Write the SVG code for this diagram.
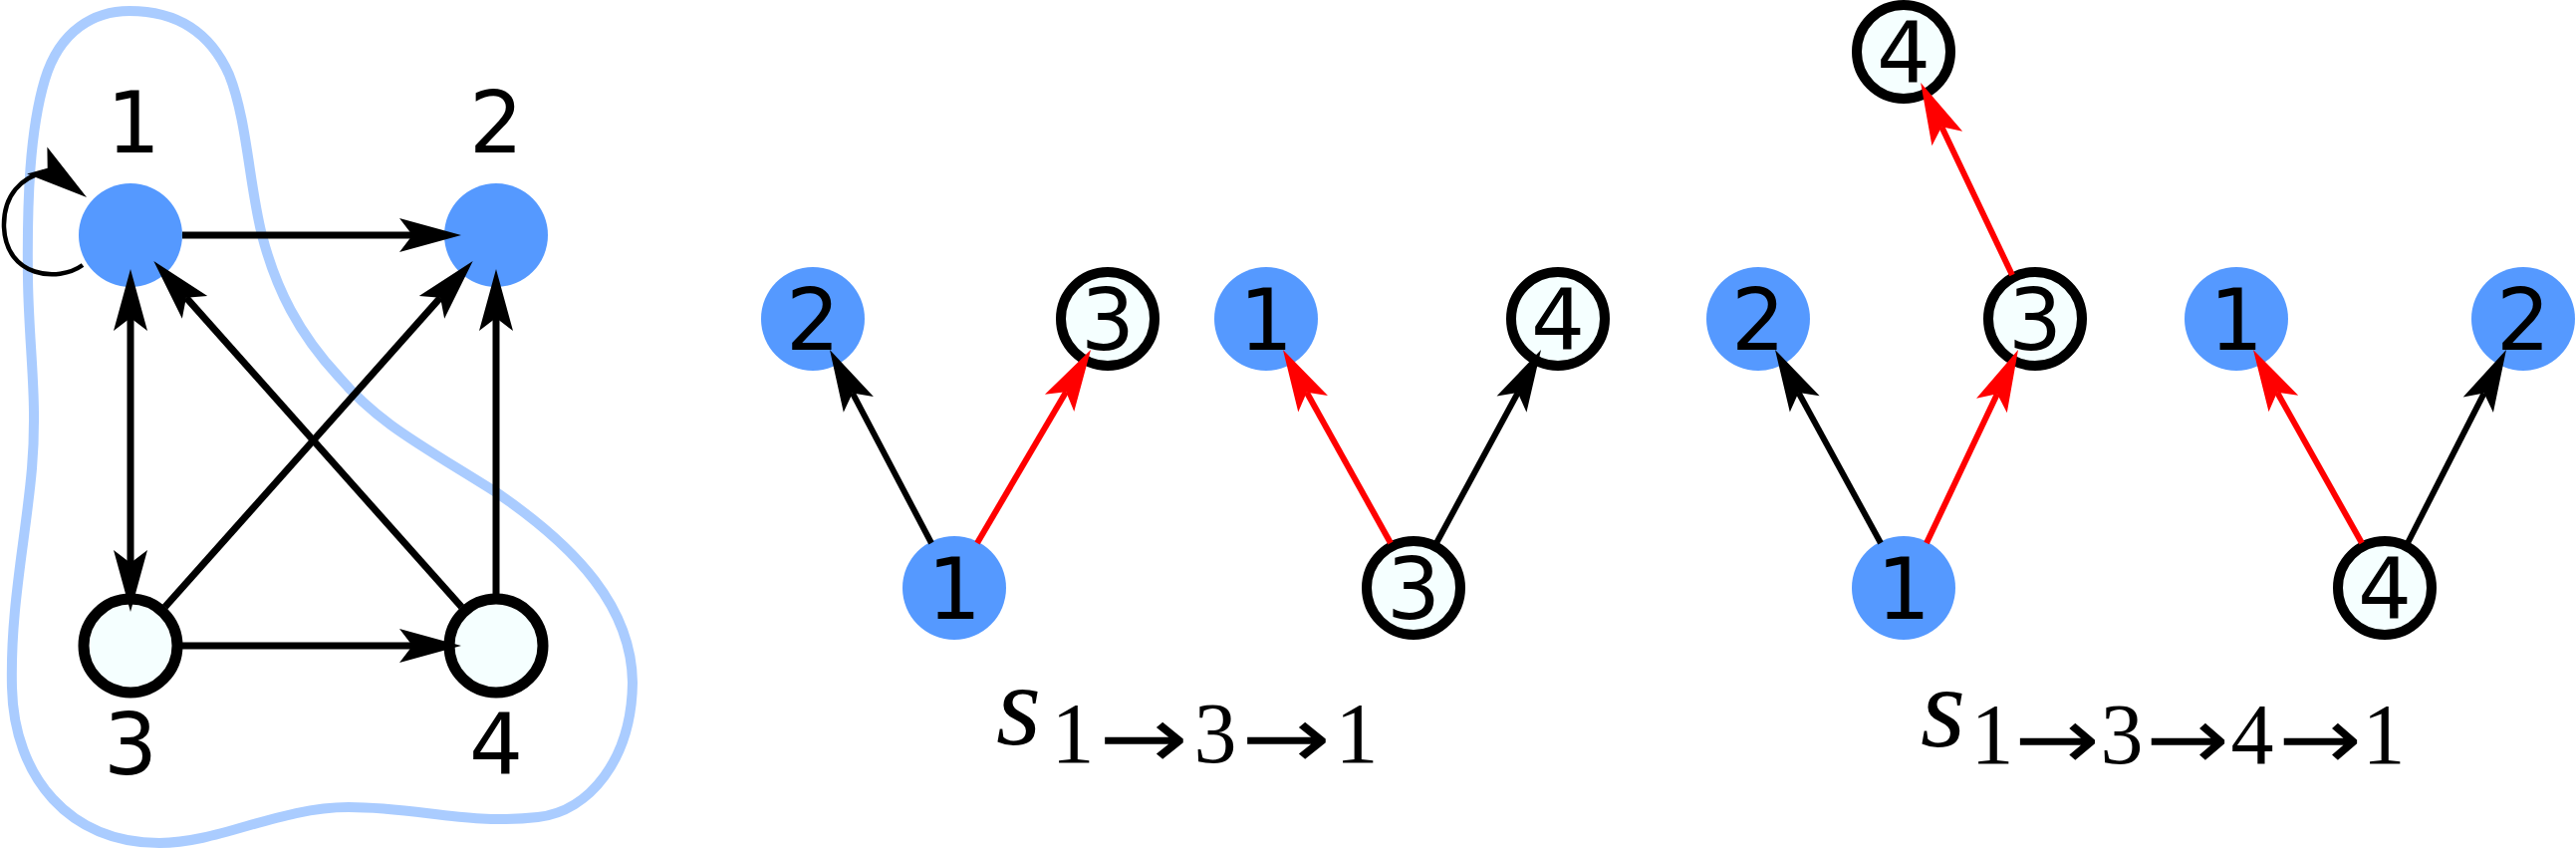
<svg xmlns="http://www.w3.org/2000/svg" width="2586" height="853" viewBox="0 0 2586 853">
<style>
.blue{fill:#5599ff}
.open{fill:#f5ffff;stroke:#000;stroke-width:10}
.open0{fill:#f5ffff;stroke:#000;stroke-width:11}
.lbl{font-family:"DejaVu Sans",sans-serif;font-size:85px;fill:#000;text-anchor:middle}
.e{fill:none;stroke:#000;stroke-width:7;marker-end:url(#ahk)}
.t{fill:none;stroke:#000;stroke-width:6;marker-end:url(#ahk)}
.r{fill:none;stroke:#ff0000;stroke-width:6;marker-end:url(#ahr)}
.math{font-family:"Liberation Serif","DejaVu Serif",serif;fill:#000}
.dig{font-family:"Liberation Serif","DejaVu Serif",serif;font-size:86px;fill:#000;text-anchor:middle}
.arr{font-family:"DejaVu Sans",sans-serif;font-size:86px;fill:#000}
</style>
<defs>
<marker id="ahk" markerUnits="userSpaceOnUse" viewBox="-14 -18 64 36" refX="0" refY="0" markerWidth="64" markerHeight="36" orient="auto-start-reverse" overflow="visible"><path d="M49,0 L-13,-17 L0,0 L-13,17 Z" fill="#000"/></marker>
<marker id="ahr" markerUnits="userSpaceOnUse" viewBox="-14 -18 64 36" refX="0" refY="0" markerWidth="64" markerHeight="36" orient="auto" overflow="visible"><path d="M49,0 L-13,-17 L0,0 L-13,17 Z" fill="#ff0000"/></marker>
</defs>

<g id="cluster">
<path d="M130,11 C95,11 60,30 45,80 C30,130 27,200 28,280 C29,350 38,400 32,470 C26,540 10,610 12,690 C14,780 70,846 160,846 C220,846 280,810 350,810 C420,810 470,828 540,820 C592,814 634,762 635,685 C634,610 580,550 498,494 C420,445 380,425 340,378 C300,335 277,290 263,236 C250,185 248,120 230,75 C210,30 175,11 130,11 Z" fill="none" stroke="#aaccff" stroke-width="10"/>
</g>

<!-- left graph nodes -->
<g id="g-n1"><circle class="blue" cx="131" cy="236" r="52"/><text class="lbl" x="134" y="153">1</text></g>
<g id="g-n2"><circle class="blue" cx="498" cy="236" r="52"/><text class="lbl" x="498" y="153">2</text></g>
<g id="g-n3"><circle class="open0" cx="131" cy="648" r="47"/><text class="lbl" x="131" y="777">3</text></g>
<g id="g-n4"><circle class="open0" cx="498" cy="648" r="47"/><text class="lbl" x="498" y="777">4</text></g>

<!-- tree A -->
<g id="a-root1"><circle class="blue" cx="958" cy="590" r="52"/><text class="lbl" x="958" y="621">1</text></g>
<g id="a-2"><circle class="blue" cx="816" cy="320" r="52"/><text class="lbl" x="816" y="351">2</text></g>
<g id="a-3"><circle class="open" cx="1112" cy="320" r="47"/><text class="lbl" x="1112" y="351">3</text></g>

<!-- tree B -->
<g id="b-root3"><circle class="open" cx="1419" cy="590" r="47"/><text class="lbl" x="1419" y="621">3</text></g>
<g id="b-1"><circle class="blue" cx="1271" cy="320" r="52"/><text class="lbl" x="1271" y="351">1</text></g>
<g id="b-4"><circle class="open" cx="1564" cy="320" r="47"/><text class="lbl" x="1564" y="351">4</text></g>

<!-- tree C -->
<g id="c-root1"><circle class="blue" cx="1911" cy="590" r="52"/><text class="lbl" x="1911" y="621">1</text></g>
<g id="c-2"><circle class="blue" cx="1765" cy="320" r="52"/><text class="lbl" x="1765" y="351">2</text></g>
<g id="c-3"><circle class="open" cx="2043" cy="320" r="47"/><text class="lbl" x="2043" y="351">3</text></g>
<g id="c-4"><circle class="open" cx="1911" cy="52" r="47"/><text class="lbl" x="1911" y="83">4</text></g>

<!-- tree D -->
<g id="d-root4"><circle class="open" cx="2394" cy="590" r="47"/><text class="lbl" x="2394" y="621">4</text></g>
<g id="d-1"><circle class="blue" cx="2245" cy="320" r="52"/><text class="lbl" x="2245" y="351">1</text></g>
<g id="d-2"><circle class="blue" cx="2533" cy="320" r="52"/><text class="lbl" x="2533" y="351">2</text></g>

<g id="connectors">
<path class="e" d="M183,236 L414,236"/>
<path class="e" d="M183,648 L414,648"/>
<path class="e" d="M131,319 L131,565" marker-start="url(#ahk)"/>
<path class="e" d="M498,596 L498,319"/>
<path class="e" d="M165.6,609.2 L442.1,298.7"/>
<path class="e" d="M463.4,609.2 L186.9,298.7"/>
<path d="M83,266 C58,284 6,278 4,228 C3,195 22,178 46,172" fill="none" stroke="#000" stroke-width="4.5"/>
<path d="M87,198 L47.4,147.4 L47.7,168.7 L27.1,174.6 Z" fill="#000"/>

<path class="t" d="M935,545 L855.8,394.4"/>
<path class="r" d="M981,545 L1070.2,393.2"/>

<path class="r" d="M1396,545 L1311.8,393.8"/>
<path class="t" d="M1442,545 L1523.7,394.1"/>

<path class="t" d="M1888,545 L1805.5,394"/>
<path class="r" d="M1934,545 L2005,395.3"/>
<path class="r" d="M2020,276 L1949.2,127.2"/>

<path class="r" d="M2371,545 L2286,393.7"/>
<path class="t" d="M2417,545 L2493.7,394.6"/>
</g>

<g id="caption1">
<text class="math" x="1000" y="747" font-size="116" font-style="italic">s</text>
<text class="dig" x="1077" y="765">1</text>
<text class="arr" x="1103" y="770" textLength="90" lengthAdjust="spacingAndGlyphs">→</text>
<text class="dig" x="1220" y="765">3</text>
<text class="arr" x="1246" y="770" textLength="90" lengthAdjust="spacingAndGlyphs">→</text>
<text class="dig" x="1362" y="765">1</text>
</g>
<g id="caption2">
<text class="math" x="1928" y="749" font-size="116" font-style="italic">s</text>
<text class="dig" x="2000" y="766">1</text>
<text class="arr" x="2022" y="771" textLength="86" lengthAdjust="spacingAndGlyphs">→</text>
<text class="dig" x="2130" y="766">3</text>
<text class="arr" x="2154" y="771" textLength="84" lengthAdjust="spacingAndGlyphs">→</text>
<text class="dig" x="2261" y="766">4</text>
<text class="arr" x="2287" y="771" textLength="84" lengthAdjust="spacingAndGlyphs">→</text>
<text class="dig" x="2393" y="766">1</text>
</g>
</svg>
